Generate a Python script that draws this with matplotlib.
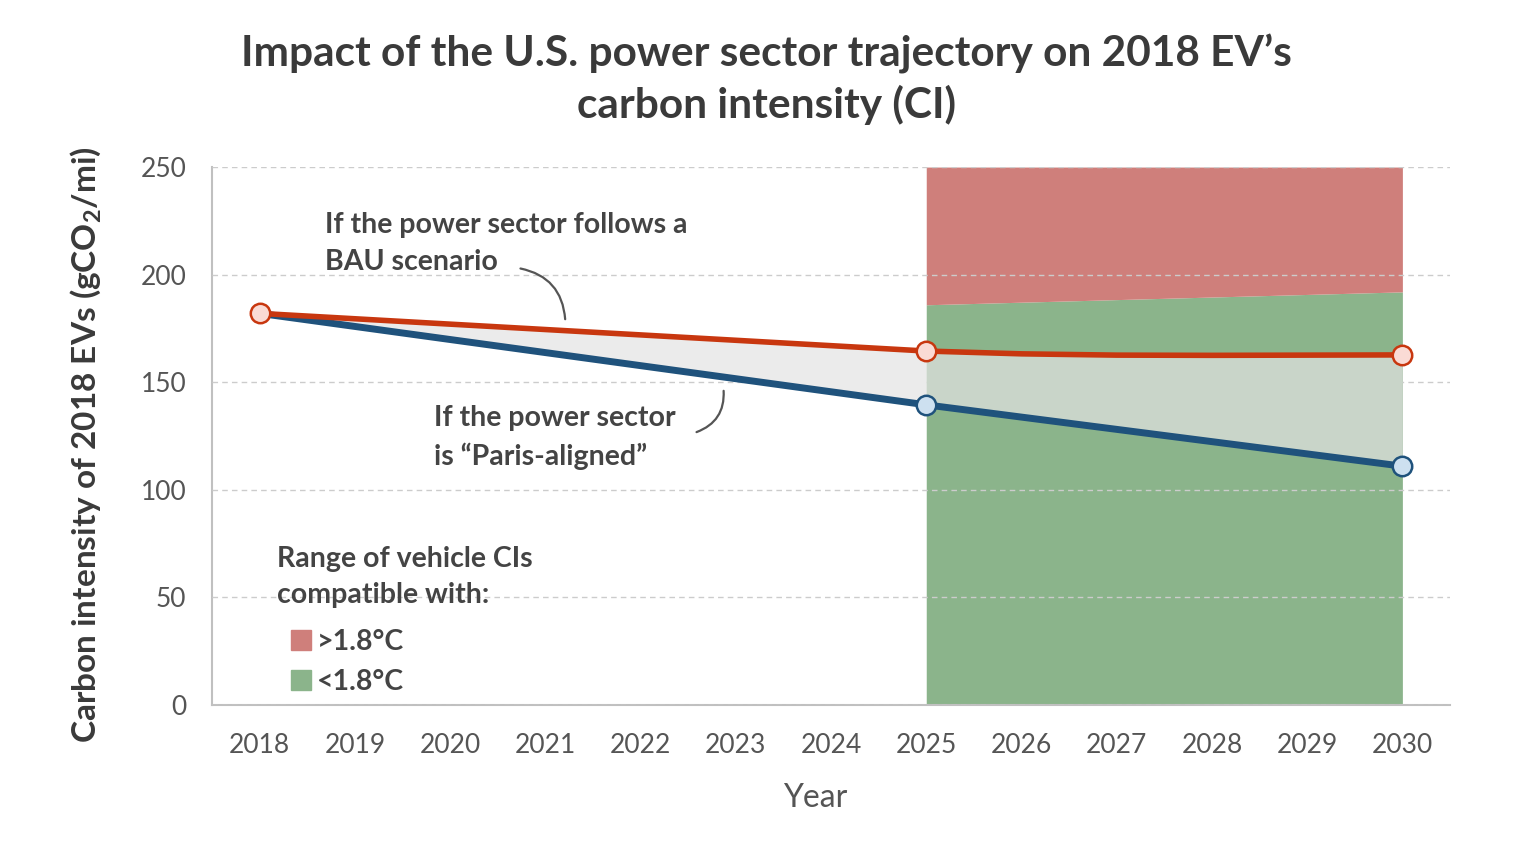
import numpy as np
import matplotlib as mpl
import matplotlib.pyplot as plt
from matplotlib.patches import Patch

mpl.rcParams['font.family'] = ['Lato', 'DejaVu Sans']
mpl.rcParams['mathtext.fontset'] = 'custom'
mpl.rcParams['mathtext.rm'] = 'Lato'
mpl.rcParams['mathtext.bf'] = 'Lato:bold'

years = np.arange(2018, 2031)
# BAU power sector trajectory (read per year)
bau = [182, 179.5, 177, 174.5, 172, 169.5, 167, 164.5, 163.2, 162.6, 162.5, 162.6, 162.7]
# Paris-aligned trajectory
paris_years = [2018, 2025, 2030]
paris = [182, 139.5, 111]
# markers
bau_mark_years = [2018, 2025, 2030]
bau_mark = [182, 164.5, 162.7]
paris_mark_years = [2025, 2030]
paris_mark = [139.5, 111]
# compatible ranges
range_years = [2025, 2030]
below_18 = [186, 192]
top_val = [250, 250]

red_area = '#cf7f7b'
green_area = '#8bb48b'
red_line = '#c8370f'
blue_line = '#1f527c'
txt = '#444444'

fig = plt.figure(figsize=(15.18, 8.48), dpi=100)
ax = fig.add_axes([0.1397, 0.1686, 0.8155, 0.6344])

ax.fill_between(range_years, 0, below_18, color=green_area, lw=0, zorder=1)
ax.fill_between(range_years, below_18, top_val, color=red_area, lw=0, zorder=1)

paris_full = np.interp(years, paris_years, paris)
ax.fill_between(years, paris_full, bau, where=years <= 2025, color='#ebebeb', lw=0, zorder=3)
ax.fill_between(years, paris_full, bau, where=years >= 2025, color='#c9d5c9', lw=0, zorder=3)

ax.plot(paris_years, paris, color=blue_line, lw=5, zorder=4, solid_capstyle='butt')
ax.plot(years, bau, color=red_line, lw=4, zorder=4.5, solid_capstyle='butt')
ax.plot(paris_mark_years, paris_mark, 'o', ms=14, mfc='#cde0f0', mec=blue_line, mew=1.8, zorder=6)
ax.plot(bau_mark_years, bau_mark, 'o', ms=14, mfc='#fadbd5', mec=red_line, mew=1.8, zorder=6)

ax.set_xlim(2017.5, 2030.5)
ax.set_ylim(0, 250)
ax.set_xticks(years)
ax.set_yticks([0, 50, 100, 150, 200, 250])
ax.set_axisbelow(False)
ax.yaxis.grid(True, ls=(0, (4, 3)), color='#cccccc', lw=1)
ax.tick_params(length=0, labelsize=19, colors='#555555')
ax.tick_params(axis='x', pad=20)
ax.tick_params(axis='y', pad=18.5)
for s in ['top', 'right']:
    ax.spines[s].set_visible(False)
for s in ['left', 'bottom']:
    ax.spines[s].set_color('#c0c0c0')
    ax.spines[s].set_linewidth(1.5)

ax.set_xlabel('Year', fontsize=23, color='#555555', labelpad=18)
ax.xaxis.label.set_x(0.487)
ax.set_ylabel(r'Carbon intensity of 2018 EVs (gCO$_\mathbf{2}$/mi)', fontsize=24,
              fontweight='bold', color='#3a3a3a', labelpad=26)
ax.yaxis.label.set_y(0.484)

fig.text(0.505, 0.96, "Impact of the U.S. power sector trajectory on 2018 EV\u2019s\ncarbon intensity (CI)",
         fontsize=30.5, fontweight='bold', color='#3a3a3a', ha='center', va='top', linespacing=1.33)

ax.text(2018.69, 214.5, 'If the power sector follows a\nBAU scenario', fontsize=20.5,
        fontweight='bold', color=txt, va='center', ha='left', linespacing=1.5, zorder=7)
ax.annotate('', xy=(2021.21, 178.0), xytext=(2020.71, 203.1),
            arrowprops=dict(arrowstyle='-', color='#555555', lw=1.6,
                            connectionstyle='arc3,rad=-0.4'))
ax.text(2019.83, 124.3, 'If the power sector\nis \u201cParis-aligned\u201d', fontsize=20.5,
        fontweight='bold', color=txt, va='center', ha='left', linespacing=1.5, zorder=7)
ax.annotate('', xy=(2022.87, 147.3), xytext=(2022.56, 126.4),
            arrowprops=dict(arrowstyle='-', color='#555555', lw=1.6,
                            connectionstyle='arc3,rad=0.4'))

ax.text(2018.18, 59.5, 'Range of vehicle CIs\ncompatible with:', fontsize=20.5,
        fontweight='bold', color=txt, va='center', ha='left', linespacing=1.5, zorder=7)
handles = [Patch(color=red_area, label='>1.8\u00b0C'), Patch(color=green_area, label='<1.8\u00b0C')]
leg = ax.legend(handles=handles, loc='upper left', bbox_to_anchor=(0.0525, 0.168), frameon=False,
                handlelength=0.7, handleheight=0.7, handletextpad=0.2, labelspacing=0.5,
                prop={'size': 20.5, 'weight': 'bold'}, borderpad=0)
for t in leg.get_texts():
    t.set_color(txt)

fig.savefig('out.png', dpi=100)
